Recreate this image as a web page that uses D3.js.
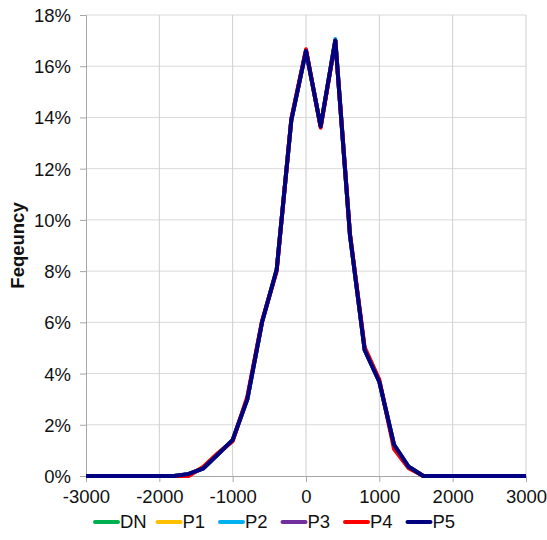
<!DOCTYPE html>
<html lang="en">
<head>
    <meta charset="UTF-8">
    <title>Feqeuncy distribution</title>
    <script src="https://d3js.org/d3.v7.min.js"></script>
    <style>
        body { margin: 0; background: #fff; }
        svg { display: block; font-family: "Liberation Sans", Arial, sans-serif; }
        .tick text { fill: #111; }
    </style>
</head>
<body>
    <div id="chart"></div>

    <script>
        // x categories (bin centres)
        const xValues = [-3000, -2800, -2600, -2400, -2200, -2000, -1800, -1600, -1400, -1200, -1000,
                         -800, -600, -400, -200, 0, 200, 400, 600, 800, 1000,
                         1200, 1400, 1600, 1800, 2000, 2200, 2400, 2600, 2800, 3000];

        // frequency in percent, one array per series
        const dn = [0, 0, 0, 0, 0, 0, 0, 0.07, 0.3, 0.85, 1.4, 3.0, 6.0, 8.05, 13.9, 16.6, 13.65, 17.0, 9.4, 4.92, 3.68, 1.22, 0.36, 0, 0, 0, 0, 0, 0, 0, 0];
        const p1 = [0, 0, 0, 0, 0, 0, 0, 0.07, 0.3, 0.85, 1.4, 3.0, 6.0, 8.05, 13.9, 16.6, 13.65, 17.0, 9.4, 4.92, 3.68, 1.22, 0.36, 0, 0, 0, 0, 0, 0, 0, 0];
        const p2 = [0, 0, 0, 0, 0, 0, 0, 0.07, 0.3, 0.85, 1.4, 3.0, 6.0, 8.05, 13.9, 16.62, 13.65, 17.06, 9.4, 4.92, 3.68, 1.22, 0.36, 0, 0, 0, 0, 0, 0, 0, 0];
        const p3 = [0, 0, 0, 0, 0, 0, 0, 0.07, 0.3, 0.85, 1.4, 3.0, 6.0, 8.05, 13.9, 16.6, 13.65, 17.0, 9.4, 4.92, 3.68, 1.22, 0.36, 0, 0, 0, 0, 0, 0, 0, 0];
        const p4 = [0, 0, 0, 0, 0, 0, 0, 0, 0.36, 0.9, 1.36, 3.1, 6.05, 8.0, 13.95, 16.66, 13.6, 17.0, 9.45, 5.02, 3.76, 1.05, 0.3, 0, 0, 0, 0, 0, 0, 0, 0];
        const p5 = [0, 0, 0, 0, 0, 0, 0, 0.08, 0.3, 0.85, 1.41, 3.0, 6.0, 8.05, 13.9, 16.6, 13.65, 17.0, 9.4, 4.92, 3.68, 1.22, 0.36, 0, 0, 0, 0, 0, 0, 0, 0];

        const seriesNames = ["DN", "P1", "P2", "P3", "P4", "P5"];
        const seriesColors = ["#00B050", "#FFC000", "#00B0F0", "#7030A0", "#FF0000", "#000080"];
        const seriesValues = [dn, p1, p2, p3, p4, p5];

        const xTicks = [-3000, -2000, -1000, 0, 1000, 2000, 3000];
        const yTicks = [0, 2, 4, 6, 8, 10, 12, 14, 16, 18];

        const W = 547, H = 540;
        const margin = { top: 15, right: 21, bottom: 64, left: 86 };
        const width = W - margin.left - margin.right,
              height = H - margin.top - margin.bottom;

        const svg = d3.select("#chart").append("svg")
            .attr("width", W)
            .attr("height", H);

        const g = svg.append("g")
            .attr("transform", `translate(${margin.left},${margin.top})`);

        const x = d3.scaleLinear().domain([-3000, 3000]).range([0, width]);
        const y = d3.scaleLinear().domain([0, 18]).range([height, 0]);

        // gridlines
        g.append("g").selectAll("line")
            .data(yTicks.slice(1))
            .join("line")
            .attr("x1", 0).attr("x2", width)
            .attr("y1", d => y(d)).attr("y2", d => y(d))
            .attr("stroke", "#d9d9d9").attr("stroke-width", 1);

        g.append("g").selectAll("line")
            .data(xTicks.slice(1))
            .join("line")
            .attr("x1", d => x(d)).attr("x2", d => x(d))
            .attr("y1", 0).attr("y2", height)
            .attr("stroke", "#cfcfcf").attr("stroke-width", 1);

        // axes (plain hyphen for negatives, like the original)
        const yAxis = g.append("g")
            .call(d3.axisLeft(y).tickValues(yTicks).tickFormat(d => d + "%").tickSize(6).tickPadding(9));
        const xAxis = g.append("g")
            .attr("transform", `translate(0,${height})`)
            .call(d3.axisBottom(x).tickValues(xTicks).tickFormat(d => String(d)).tickSize(6).tickPadding(4));

        [yAxis, xAxis].forEach(a => {
            a.select(".domain").attr("stroke", "#a6a6a6");
            a.selectAll(".tick line").attr("stroke", "#a6a6a6");
            a.selectAll(".tick text").style("font-size", "18.5px");
        });
        yAxis.selectAll(".tick text").attr("dy", "0.35em");
        xAxis.selectAll(".tick text").attr("dy", "0.9em");

        // lines
        const line = d3.line()
            .x((d, i) => x(xValues[i]))
            .y(d => y(d));

        seriesValues.forEach((vals, k) => {
            g.append("path")
                .datum(vals)
                .attr("fill", "none")
                .attr("stroke", seriesColors[k])
                .attr("stroke-width", 4)
                .attr("stroke-linejoin", "round")
                .attr("d", line);
        });

        // y axis title
        svg.append("text")
            .attr("transform", `translate(24,${margin.top + height / 2}) rotate(-90)`)
            .attr("text-anchor", "middle")
            .style("font-size", "18.5px")
            .style("font-weight", "bold")
            .attr("fill", "#111")
            .text("Feqeuncy");

        // legend
        const legend = svg.append("g")
            .attr("transform", "translate(93,522)");

        seriesNames.forEach((name, i) => {
            const row = legend.append("g")
                .attr("transform", `translate(${i * 62.5},0)`);
            row.append("line")
                .attr("x1", 2).attr("x2", 25)
                .attr("y1", 0).attr("y2", 0)
                .attr("stroke", seriesColors[i])
                .attr("stroke-width", 4)
                .attr("stroke-linecap", "round");
            row.append("text")
                .attr("x", 27)
                .attr("y", 0)
                .attr("dy", "0.35em")
                .style("font-size", "18.5px")
                .attr("fill", "#111")
                .text(name);
        });
    </script>
</body>
</html>
